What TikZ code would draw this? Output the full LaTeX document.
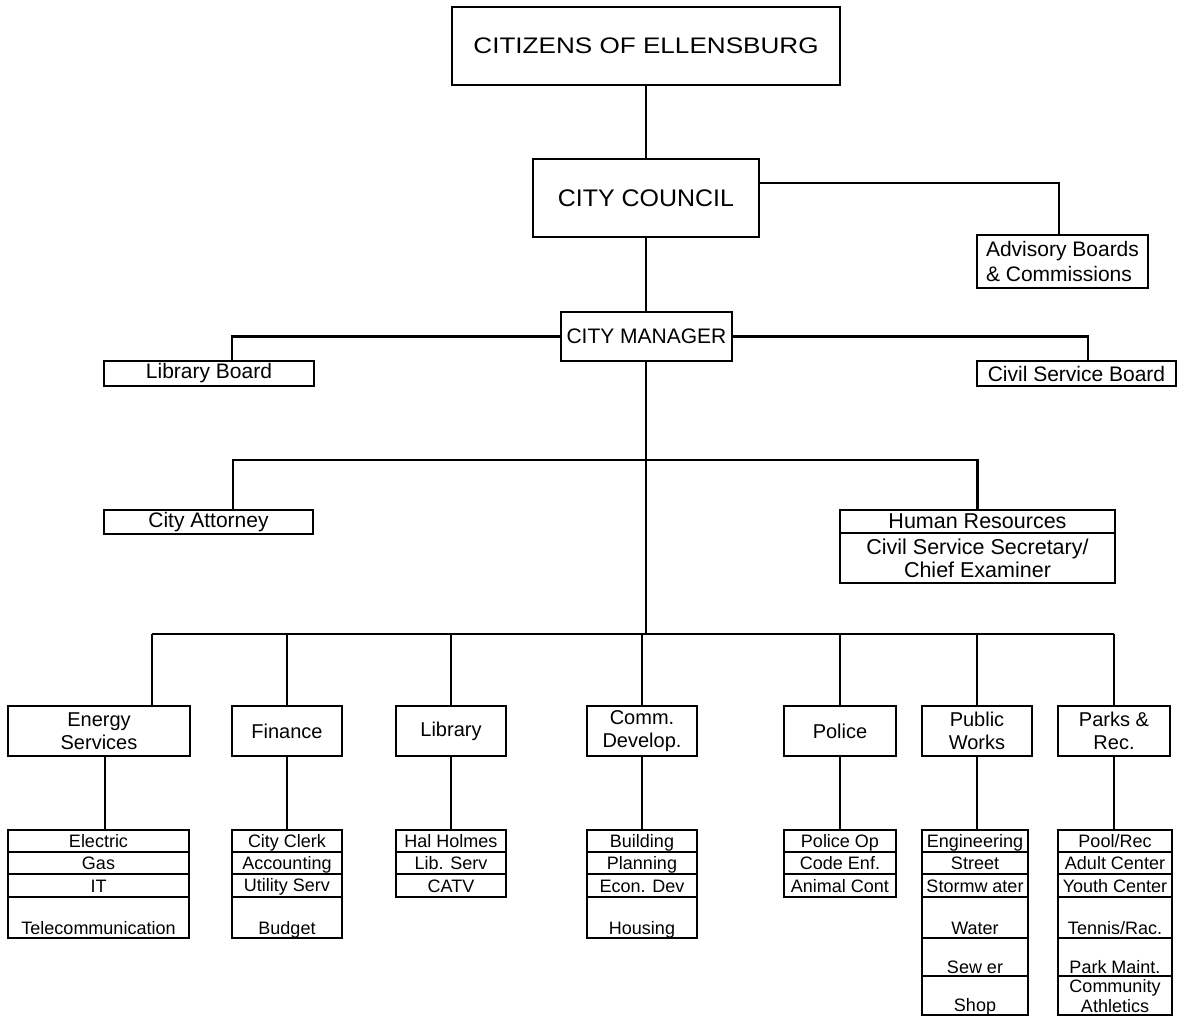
\documentclass[tikz,border=0pt]{standalone}
\usepackage{fontspec}
\setmainfont{Liberation Sans}
\newcommand\rs{\vrule height 16pt depth 3pt width 0pt}
\begin{document}
\begin{tikzpicture}[x=1pt,y=-1pt,
  bx/.style={draw, line width=2.3pt, inner sep=0pt, align=center, font=\fontsize{21}{24}\selectfont},
  dept/.style={bx, minimum height=50, font=\fontsize{20}{23}\selectfont},
  sub/.style={bx, font=\fontsize{18}{21}\selectfont},
  r1/.style={sub, minimum height=22},
  r2/.style={sub, minimum height=22},
  r3/.style={sub, minimum height=23},
  r4/.style={sub, minimum height=41},
  r5/.style={sub, minimum height=38},
  r6/.style={sub, minimum height=39},
  ln/.style={line width=2.3pt}]
\useasboundingbox (0,0) rectangle (1179,1017);
\fill[white] (0,0) rectangle (1179,1017);

% top levels
\node[bx, minimum width=388, minimum height=78, font=\fontsize{22.5}{26}\selectfont] (cit) at (646,46) {\scalebox{1.16}[1]{CITIZENS OF ELLENSBURG}};
\node[bx, minimum width=226, minimum height=78, font=\fontsize{24}{28}\selectfont] (cc) at (646,198) {\scalebox{1.04}[1]{CITY COUNCIL}};
\node[bx, minimum width=171, minimum height=53, align=left] (adv) at (1062.5,261.5) {Advisory Boards\\[1pt]\& Commissions};
\node[bx, minimum width=171, minimum height=49, font=\fontsize{21}{24}\selectfont] (cm) at (646.5,336.5) {CITY MANAGER};
\node[bx, minimum width=210, minimum height=25] (lb) at (209,373.5) {Library Board};
\node[bx, minimum width=199, minimum height=25] (csb) at (1076.5,373.5) {Civil Service Board};
\node[bx, minimum width=209, minimum height=24] (ca) at (208.5,522) {City Attorney};
\node[bx, minimum width=275, minimum height=23, font=\fontsize{21.5}{24}\selectfont] (hr) at (977.5,521.5) {Human Resources};
\node[bx, minimum width=275, minimum height=50, font=\fontsize{21.5}{24}\selectfont] (hr2) at (977.5,558) {Civil Service Secretary/\\[-1pt]Chief Examiner};

% departments
\node[dept, minimum width=182] (en) at (99,731) {Energy\\Services};
\node[dept, minimum width=110] (fin) at (287,731) {Finance};
\node[dept, minimum width=110] (lib) at (451,731) {Library};
\node[dept, minimum width=110] (cd) at (642,731) {Comm.\\Develop.};
\node[dept, minimum width=112] (pol) at (840,731) {Police};
\node[dept, minimum width=110] (pw) at (977,731) {Public\\Works};
\node[dept, minimum width=112] (pr) at (1114,731) {Parks \&\\Rec.};

% sub lists
\node[r1, minimum width=181] (en1) at (98.5,841) {\rs Electric};
\node[r2, minimum width=181] (en2) at (98.5,863) {\rs Gas};
\node[r3, minimum width=181] (en3) at (98.5,885.5) {\rs IT};
\node[r4, minimum width=181] (en4) at (98.5,917.5) {\rs\\\rs Telecommunication};

\node[r1, minimum width=110] (fin1) at (287,841) {\rs City Clerk};
\node[r2, minimum width=110] (fin2) at (287,863) {\rs Accounting};
\node[r3, minimum width=110] (fin3) at (287,885.5) {\rs Utility Serv};
\node[r4, minimum width=110] (fin4) at (287,917.5) {\rs\\\rs Budget};

\node[r1, minimum width=110] (lib1) at (451,841) {\rs Hal Holmes};
\node[r2, minimum width=110] (lib2) at (451,863) {\rs Lib. Serv};
\node[r3, minimum width=110] (lib3) at (451,885.5) {\rs CATV};

\node[r1, minimum width=110] (cd1) at (642,841) {\rs Building};
\node[r2, minimum width=110] (cd2) at (642,863) {\rs Planning};
\node[r3, minimum width=110] (cd3) at (642,885.5) {\rs Econ. Dev};
\node[r4, minimum width=110] (cd4) at (642,917.5) {\rs\\\rs Housing};

\node[r1, minimum width=112] (pol1) at (840,841) {\rs Police Op};
\node[r2, minimum width=112] (pol2) at (840,863) {\rs Code Enf.};
\node[r3, minimum width=112] (pol3) at (840,885.5) {\rs Animal Cont};

\node[r1, minimum width=106] (pw1) at (975,841) {\rs Engineering};
\node[r2, minimum width=106] (pw2) at (975,863) {\rs Street};
\node[r3, minimum width=106] (pw3) at (975,885.5) {\rs Stormw ater};
\node[r4, minimum width=106] (pw4) at (975,917.5) {\rs\\\rs Water};
\node[r5, minimum width=106] (pw5) at (975,957) {\rs\\[-2pt]\rs Sew er};
\node[r6, minimum width=106] (pw6) at (975,995.5) {\rs\\[-2pt]\rs Shop};

\node[r1, minimum width=114] (pr1) at (1115,841) {\rs Pool/Rec};
\node[r2, minimum width=114] (pr2) at (1115,863) {\rs Adult Center};
\node[r3, minimum width=114] (pr3) at (1115,885.5) {\rs Youth Center};
\node[r4, minimum width=114] (pr4) at (1115,917.5) {\rs\\\rs Tennis/Rac.};
\node[r5, minimum width=114] (pr5) at (1115,957) {\rs\\[-2pt]\rs Park Maint.};
\node[r6, minimum width=114] (pr6) at (1115,995.5) {\rs Community\\[-1pt]\rs Athletics};

% coordinates
\coordinate (advc) at (1059,183);
\coordinate (lbc) at (232,336);
\coordinate (csbc) at (1088,336);
\coordinate (b1L) at (233,460);
\coordinate (b1R) at (977.5,460);
\coordinate (b2L) at (152,634);
\coordinate (b2R) at (1114,634);
\coordinate (enb) at (105,756);

% connectors
\draw[ln] (cit.south) -- (cc.north);
\draw[ln] (cc.east |- advc) -- (advc) -- (adv.north -| advc);
\draw[ln] (cc.south) -- (cm.north -| cc.south);
\draw[ln] (cm.west) -- (cm.west -| lbc) -- (lb.north -| lbc);
\draw[ln] (cm.east) -- (cm.east -| csbc) -- (csb.north -| csbc);
\draw[ln] (cm.south -| cc.south) -- (b2L -| cc.south);
\draw[ln] (ca.north -| b1L) -- (b1L) -- (b1R) -- (hr.north);
\draw[ln] (b2L) -- (b2R);
\draw[ln] (b2L) -- (en.north -| b2L);
\draw[ln] (fin.north) -- (fin.north |- b2L);
\draw[ln] (lib.north) -- (lib.north |- b2L);
\draw[ln] (cd.north) -- (cd.north |- b2L);
\draw[ln] (pol.north) -- (pol.north |- b2L);
\draw[ln] (pw.north) -- (pw.north |- b2L);
\draw[ln] (pr.north) -- (pr.north |- b2L);
\draw[ln] (en.south -| enb) -- (en1.north -| enb);
\draw[ln] (fin.south) -- (fin1.north);
\draw[ln] (lib.south) -- (lib1.north);
\draw[ln] (cd.south) -- (cd1.north);
\draw[ln] (pol.south) -- (pol1.north);
\draw[ln] (pw.south) -- (pw1.north -| pw.south);
\draw[ln] (pr.south) -- (pr1.north -| pr.south);
\end{tikzpicture}
\end{document}
